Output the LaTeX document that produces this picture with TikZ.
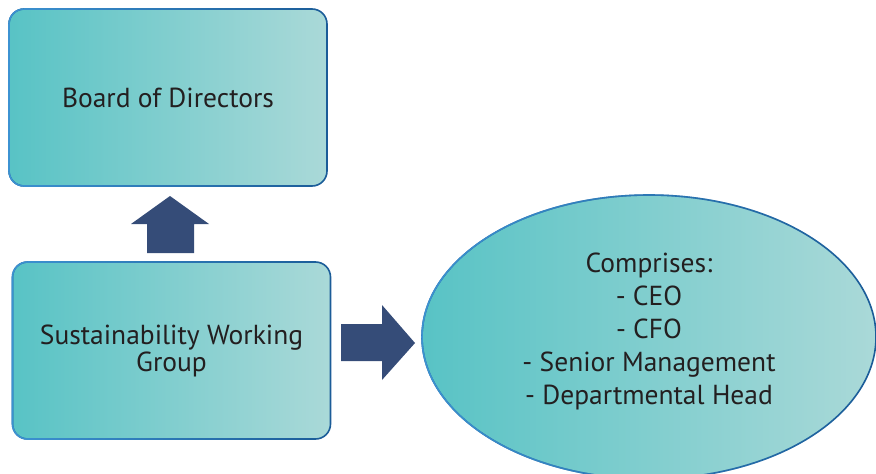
\documentclass[tikz,border=0pt]{standalone}
\usepackage{fontspec}
\setmainfont{PT Sans}
\usetikzlibrary{shapes.geometric,fadings}
\definecolor{tealL}{HTML}{58C3C5}
\definecolor{tealR}{HTML}{AAD9D8}
\definecolor{edgeL}{HTML}{1B5C98}
\definecolor{edgeR}{HTML}{3D93D2}
\definecolor{navy}{HTML}{354C78}
\definecolor{ink}{HTML}{231F20}
\tikzset{
  panel/.style={left color=tealL, right color=tealR, draw=edgeL, line width=1.6pt,
    postaction={draw=edgeR, line width=1.6pt, path fading=east},
    text=ink, align=center, inner sep=0pt},
  roundbox/.style={panel, rectangle, rounded corners=15pt, minimum width=318pt, minimum height=177pt},
  blockarrow/.style={fill=navy, draw=none},
  label/.style={font=\fontsize{27.5}{27}\selectfont}
}
\begin{document}
\begin{tikzpicture}[x=1pt,y=-1pt]
\useasboundingbox (0,0) rectangle (876,474);
\begin{scope}
\clip (0,0) rectangle (876,474);
\node[roundbox, label] (board) at (168,97.5) {Board of Directors};
\node[roundbox, label] (swg) at (171.5,350.5) {Sustainability Working\\Group};
\node[panel, ellipse, minimum width=454pt, minimum height=284pt] (members) at (649,337) {};
\end{scope}
\node[text=ink, align=center, inner sep=0pt, font=\fontsize{27.5}{33}\selectfont,
      yshift=6pt] (roster) at (members.center)
  {Comprises:\\- CEO\\- CFO\\- Senior Management\\- Departmental Head};
% block arrow from the working group up to the board
\fill[blockarrow] (147,253) -- (147,224) -- (131,224) -- (170,196) -- (209,224)
  -- (194,224) -- (194,253) -- cycle;
% block arrow from the working group to its members
\fill[blockarrow] (341,324) -- (382,324) -- (382,305) -- (415,343) -- (382,380)
  -- (382,361) -- (341,361) -- cycle;
\end{tikzpicture}
\end{document}
